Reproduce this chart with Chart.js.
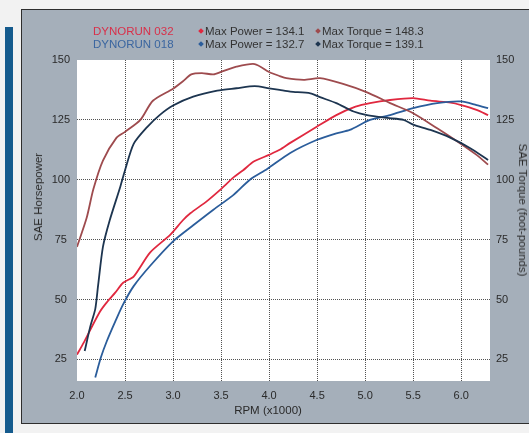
<!DOCTYPE html>
<html>
<head>
<meta charset="utf-8">
<script src="https://cdn.jsdelivr.net/npm/chart.js@4.4.0/dist/chart.umd.min.js"></script>
<style>
html,body{margin:0;padding:0;background:#f2f2f2;}
body{width:529px;height:433px;position:relative;overflow:hidden;font-family:"Liberation Sans",Arial,sans-serif;}
#bar{position:absolute;left:5px;top:27px;width:8px;height:406px;background:#155b8d;}
#panel{position:absolute;left:21px;top:9px;width:530px;height:413px;background:#a5afba;border:1px solid #2e2e2e;}
#chart{position:absolute;left:0;top:0;}
.leg{position:absolute;font-size:11.5px;line-height:13px;color:#333;white-space:nowrap;}
.dot{display:inline-block;width:4px;height:4px;transform:rotate(45deg);margin:0 2px 1px 1px;vertical-align:middle;}
.title{position:absolute;font-size:11.5px;color:#2a2a2a;white-space:nowrap;transform:translate(-50%,-50%);}
</style>
</head>
<body>
<div id="bar"></div>
<div id="panel"></div>
<canvas id="chart" width="529" height="433"></canvas>

<div class="leg" style="left:93px;top:25px;color:#d8304a">DYNORUN 032</div>
<div class="leg" style="left:93px;top:38px;color:#3b66a0">DYNORUN 018</div>
<div class="leg" style="left:198px;top:25px"><span class="dot" style="background:#e0283f"></span>Max Power = 134.1</div>
<div class="leg" style="left:198px;top:38px"><span class="dot" style="background:#2b5d9b"></span>Max Power = 132.7</div>
<div class="leg" style="left:315px;top:25px"><span class="dot" style="background:#9e4b4e"></span>Max Torque = 148.3</div>
<div class="leg" style="left:315px;top:38px"><span class="dot" style="background:#1d3550"></span>Max Torque = 139.1</div>

<div class="title" style="left:38px;top:197px;transform:translate(-50%,-50%) rotate(-90deg)">SAE Horsepower</div>
<div class="title" style="left:523px;top:210px;transform:translate(-50%,-50%) rotate(90deg)">SAE Torque (foot-pounds)</div>
<div class="title" style="left:268px;top:410px">RPM (x1000)</div>

<script>
// --- data (rpm in thousands) ---
const rpmPower032 = [2.0, 2.07, 2.14, 2.24, 2.31, 2.4, 2.48, 2.59, 2.76, 2.97, 3.1, 3.18, 3.35, 3.49, 3.63, 3.73, 3.84, 4.0, 4.11, 4.22, 4.5, 4.7, 4.9, 5.05, 5.26, 5.5, 5.68, 5.89, 6.0, 6.16, 6.28];
const power032    = [27, 32, 37.5, 45, 48.8, 53, 57, 59.6, 69.6, 77, 83, 86, 91, 95.8, 101, 104, 107.6, 110.4, 112.5, 115.4, 122.2, 127, 130.5, 132, 133.3, 134.1, 133, 132.2, 131.2, 129.2, 127];

const rpmTorque032 = [2.0, 2.1, 2.17, 2.27, 2.41, 2.5, 2.66, 2.79, 3.0, 3.1, 3.19, 3.3, 3.42, 3.5, 3.66, 3.85, 4.0, 4.11, 4.18, 4.36, 4.53, 4.77, 5.02, 5.26, 5.5, 5.75, 5.96, 6.16, 6.28];
const torque032    = [72, 84, 96, 108, 117.5, 120, 125, 133, 138, 141, 144, 144.5, 144, 145, 147.2, 148.3, 145, 143.3, 142.4, 141.7, 142.4, 140, 136.5, 132, 127.8, 121.5, 116, 110.4, 106.3];

const rpmPower018 = [2.19, 2.25, 2.31, 2.4, 2.48, 2.59, 2.76, 3.0, 3.21, 3.42, 3.63, 3.8, 3.98, 4.22, 4.5, 4.7, 4.84, 5.05, 5.26, 5.5, 5.75, 6.0, 6.16, 6.28];
const power018    = [17.5, 26, 32.6, 41, 48, 55.6, 64, 74.3, 81, 87.5, 93.7, 100, 104.5, 111.2, 116.7, 119.4, 120.8, 125, 127, 129.9, 132, 132.7, 131.2, 129.9];

const rpmTorque018 = [2.08, 2.14, 2.19, 2.22, 2.27, 2.34, 2.45, 2.5, 2.59, 2.73, 2.86, 3.0, 3.21, 3.46, 3.66, 3.85, 4.0, 4.11, 4.22, 4.43, 4.53, 4.7, 4.88, 5.02, 5.23, 5.4, 5.5, 5.68, 5.89, 6.09, 6.28];
const torque018    = [28.5, 39, 46, 56, 72, 83, 97, 104, 115, 122, 127, 131, 134.7, 137.2, 138.2, 139.1, 138.2, 137.5, 136.8, 136.1, 134.5, 132, 128.5, 127, 125.8, 125, 123, 120.8, 117.5, 113.3, 108.3];

const xTicks = [2.0, 2.5, 3.0, 3.5, 4.0, 4.5, 5.0, 5.5, 6.0];
const yTicks = [25, 50, 75, 100, 125, 150];

const gridColor = 'rgba(40,40,40,0.8)';
const tickFont = {family: '"Liberation Sans", Arial, sans-serif', size: 11};

function pts(xs, ys){
    return xs.map((x, i) => ({x: x, y: ys[i]}));
}

// white plotting area on the grey panel
const plotBg = {
    id: 'plotBg',
    beforeDraw(chart){
        const {ctx, chartArea: a} = chart;
        ctx.save();
        ctx.fillStyle = '#ffffff';
        ctx.fillRect(a.left, a.top, a.width, a.height);
        ctx.restore();
    }
};

function line(label, data, color, axis){
    return {label, data, yAxisID: axis, borderColor: color, borderWidth: 1.8,
        pointRadius: 0, tension: 0.25, fill: false};
}

new Chart(document.getElementById('chart'), {
    type: 'line',
    data: {
        datasets: [
            line('Torque 018', pts(rpmTorque018, torque018), '#1d3550', 'y2'),
            line('Torque 032', pts(rpmTorque032, torque032), '#9e4b4e', 'y2'),
            line('Power 018', pts(rpmPower018, power018), '#2b5d9b', 'y'),
            line('Power 032', pts(rpmPower032, power032), '#e0283f', 'y')
        ]
    },
    options: {
        responsive: false,
        animation: false,
        layout: {padding: {top: 60, left: 0, right: 0, bottom: 0}},
        plugins: {legend: {display: false}, tooltip: {enabled: false}},
        scales: {
            x: {
                type: 'linear', min: 2.0, max: 6.3,
                afterBuildTicks: s => { s.ticks = xTicks.map(v => ({value: v})); },
                afterFit: s => { s.height = 52; },
                ticks: {font: tickFont, color: '#2a2a2a', padding: 8, maxRotation: 0,
                    callback: v => v.toFixed(1)},
                grid: {drawTicks: false, color: c => (c.tick && c.tick.value === 2.0) ? 'transparent' : gridColor},
                border: {display: false, dash: [1, 1]}
            },
            y: {
                position: 'left', min: 16, max: 150,
                afterBuildTicks: s => { s.ticks = yTicks.map(v => ({value: v})); },
                afterFit: s => { s.width = 77; },
                ticks: {font: tickFont, color: '#2a2a2a', padding: 7, crossAlign: 'center'},
                grid: {drawTicks: false, color: c => (c.tick && c.tick.value === 150) ? 'transparent' : gridColor},
                border: {display: false, dash: [1, 1]}
            },
            y2: {
                position: 'right', min: 16, max: 150,
                afterBuildTicks: s => { s.ticks = yTicks.map(v => ({value: v})); },
                afterFit: s => { s.width = 39; },
                ticks: {font: tickFont, color: '#2a2a2a', padding: 6, crossAlign: 'near'},
                grid: {display: false, drawTicks: false},
                border: {display: false}
            }
        }
    },
    plugins: [plotBg]
});
</script>
</body>
</html>
